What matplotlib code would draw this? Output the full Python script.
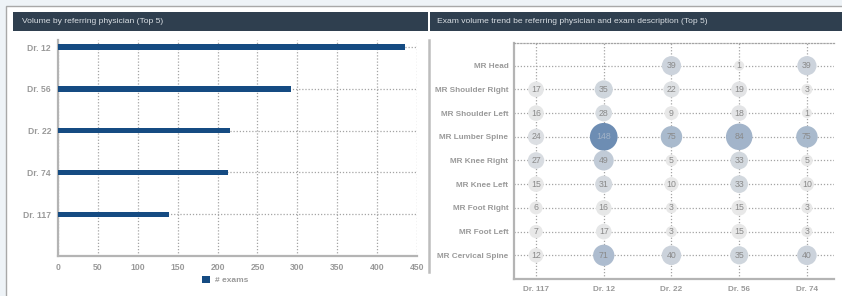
import matplotlib
matplotlib.use("Agg")
import matplotlib.pyplot as plt
import numpy as np
from matplotlib.colors import LinearSegmentedColormap, PowerNorm
from matplotlib.lines import Line2D
from matplotlib.patches import Rectangle


W, H = 842, 296
FONT = ["Liberation Sans Narrow", "Liberation Sans", "DejaVu Sans"]

# left chart: volume by referring physician
physicians = ["Dr. 12", "Dr. 56", "Dr. 22", "Dr. 74", "Dr. 117"]
exam_counts = [435, 292, 216, 213, 139]

# right chart: exam volume by physician and exam description
exams = [
    "MR Head",
    "MR Shoulder Right",
    "MR Shoulder Left",
    "MR Lumber Spine",
    "MR Knee Right",
    "MR Knee Left",
    "MR Foot Right",
    "MR Foot Left",
    "MR Cervical Spine",
]
trend_physicians = ["Dr. 117", "Dr. 12", "Dr. 22", "Dr. 56", "Dr. 74"]
dr117 = [None, 17, 16, 24, 27, 15, 6, 7, 12]
dr12 = [None, 35, 28, 148, 49, 31, 16, 17, 71]
dr22 = [39, 22, 9, 75, 5, 10, 3, 3, 40]
dr56 = [1, 19, 18, 84, 33, 33, 15, 15, 35]
dr74 = [39, 3, 1, 75, 5, 10, 3, 3, 40]

# bubble diameter scale (value -> px)
size_domain = [1, 3, 5, 6, 15, 30, 40, 50, 75, 84, 148]
size_range = [10, 11, 11.7, 13, 15.5, 16.8, 19.5, 20, 21.5, 26.5, 27.7]

BAR_COLOR = "#154b82"
GRID = "#a4a4a4"
AXIS = "#b4b4b4"
TICK = "#9a9a9a"
HEADER = "#2f3f4f"

plt.rcParams["font.family"] = FONT


def px_rect(x0, y0, x1, y1):
    return [x0 / W, 1 - y1 / H, (x1 - x0) / W, (y1 - y0) / H]


def style_axes(ax, size):
    for side in ("top", "right"):
        ax.spines[side].set_visible(False)
    for side in ("left", "bottom"):
        ax.spines[side].set_color(AXIS)
        ax.spines[side].set_linewidth(1.6)
    ax.tick_params(length=0, labelsize=size, labelcolor=TICK)
    for lab in ax.get_xticklabels() + ax.get_yticklabels():
        lab.set_fontweight("bold")
    ax.set_axisbelow(True)
    ax.patch.set_alpha(0)


fig = plt.figure(figsize=(W / 100, H / 100), dpi=100, facecolor="#eef3f7")

# panel backgrounds and headers
fig.patches.append(Rectangle((6 / W, -0.1), 1, 1.1 - 6 / H, transform=fig.transFigure,
                             facecolor="white", edgecolor="#a8a8a8", lw=1.0, zorder=-3))
fig.patches.append(Rectangle((13 / W, 1 - 31 / H), (428 - 13) / W, 19 / H,
                             transform=fig.transFigure, facecolor=HEADER, lw=0, zorder=-2))
fig.patches.append(Rectangle((430 / W, 1 - 31 / H), (842 - 430) / W, 19 / H,
                             transform=fig.transFigure, facecolor=HEADER, lw=0, zorder=-2))
fig.text(22 / W, 1 - 21.5 / H, "Volume by referring physician (Top 5)",
         color="#d9dee3", fontsize=6.1, va="center", ha="left")
fig.text(437 / W, 1 - 21.5 / H,
         "Exam volume trend be referring physician and exam description (Top 5)",
         color="#d9dee3", fontsize=6.1, va="center", ha="left")
fig.lines.append(Line2D([428.5 / W, 428.5 / W], [1 - 40 / H, 1 - 272 / H],
                        transform=fig.transFigure, color="#bdbdbd", lw=1.8, zorder=-1))

# left: horizontal bars
ax1 = fig.add_axes(px_rect(58, 40, 417, 256))
ypos = np.arange(len(physicians))
ax1.barh(ypos, exam_counts, height=0.13, color=BAR_COLOR, label="# exams", zorder=3)
ax1.set_xlim(0, 450)
ax1.set_ylim(5, -0.17)
ax1.set_xticks(np.arange(0, 451, 50))
ax1.set_yticks(ypos)
ax1.set_yticklabels(physicians)
ax1.grid(True, color=GRID, linestyle=(0, (1, 1.5)), linewidth=0.9)
style_axes(ax1, 6.2)
ax1.tick_params(axis="y", pad=5)
ax1.tick_params(axis="x", pad=5)
leg = fig.legend(loc="center left", bbox_to_anchor=(194 / W, 1 - 280 / H),
                 frameon=False, handlelength=1.0, handleheight=1.0,
                 handletextpad=0.6, fontsize=6.0)
for t in leg.get_texts():
    t.set_color(TICK)
    t.set_fontweight("bold")

# right: bubble matrix
ax2 = fig.add_axes(px_rect(514, 42.7, 834, 279))
columns = [dr117, dr12, dr22, dr56, dr74]
cmap = LinearSegmentedColormap.from_list("bub", ["#e8e8e8", "#6d8db3"])
norm = PowerNorm(gamma=0.85, vmin=15, vmax=148, clip=True)
xs, ys, vals = [], [], []
for ci, col in enumerate(columns):
    for ri, v in enumerate(col):
        if v is None:
            continue
        xs.append(ci)
        ys.append(ri)
        vals.append(v)
vals = np.array(vals, dtype=float)
diam = np.interp(vals, size_domain, size_range)
ax2.scatter(xs, ys, s=(diam * 0.72) ** 2, c=cmap(norm(vals)), linewidths=0, zorder=3)
for x, y, v in zip(xs, ys, vals):
    txt_color = "#a3b3c7" if norm(v) > 0.8 else "#8a8a8a"
    ax2.text(x, y, f"{int(v)}", ha="center", va="center", fontsize=6.3,
             color=txt_color, zorder=4)
ax2.set_xlim(-0.325, 4.4)
ax2.set_ylim(9, -0.97)
ax2.set_xticks(range(len(trend_physicians)))
ax2.set_xticklabels(trend_physicians)
ax2.set_yticks(range(len(exams)))
ax2.set_yticklabels(exams)
ax2.grid(True, color=GRID, linestyle=(0, (1, 1.5)), linewidth=0.9)
style_axes(ax2, 5.9)
ax2.spines["top"].set_visible(True)
ax2.spines["top"].set_color(GRID)
ax2.spines["top"].set_linestyle((0, (1, 1.5)))
ax2.spines["top"].set_linewidth(0.9)
ax2.tick_params(axis="y", pad=4)
ax2.tick_params(axis="x", pad=5)

fig.savefig("out.png", dpi=100, facecolor=fig.get_facecolor())
